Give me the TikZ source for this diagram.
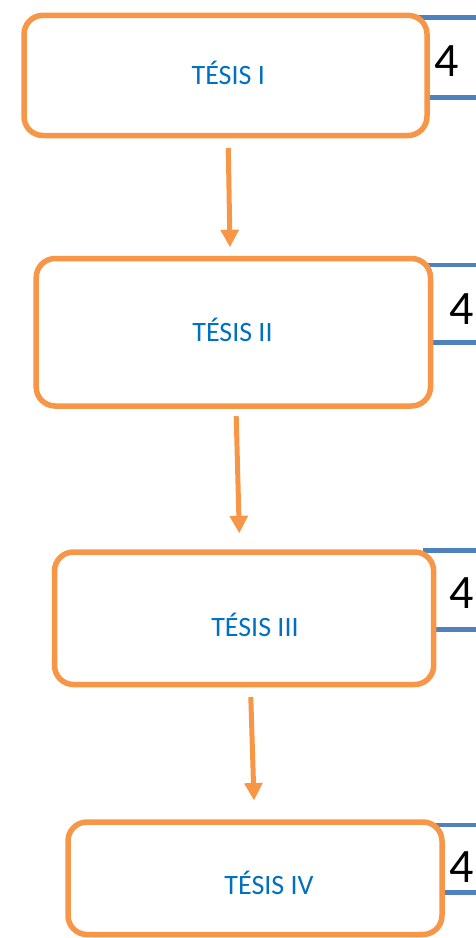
\documentclass[tikz,border=0pt]{standalone}
\usepackage{fontspec}
\setmainfont{Carlito}
\usetikzlibrary{arrows.meta}
\definecolor{boxorange}{HTML}{F79646}
\definecolor{textblue}{HTML}{0070C0}
\definecolor{lineblue}{HTML}{4F81BD}
\tikzset{
  tbox/.style={draw=boxorange, line width=5.5pt, rounded corners=19pt, fill=white, inner sep=0pt},
  tlabel/.style={text=textblue, font=\fontsize{28}{30}\selectfont, anchor=base, inner sep=0pt},
  numlabel/.style={text=black, font=\fontsize{48}{50}\selectfont, anchor=base west, inner sep=0pt},
  bracket/.style={draw=lineblue, line width=4.5pt},
  flow/.style={draw=boxorange, line width=5pt, -{Triangle[width=17.5pt, length=17.5pt]}}
}
\begin{document}
\begin{tikzpicture}[x=1pt, y=-1pt]
\useasboundingbox (0,0) rectangle (476,938);
% blue brackets (behind boxes)
\coordinate (k1a) at (476,17.7); \coordinate (k1b) at (418,17.7);
\coordinate (k1c) at (418,97.7); \coordinate (k1d) at (476,97.7);
\draw[bracket] (k1a) -- (k1b) -- (k1c) -- (k1d);
\coordinate (k2a) at (476,265); \coordinate (k2b) at (421,265);
\coordinate (k2c) at (421,342.3); \coordinate (k2d) at (476,342.3);
\draw[bracket] (k2a) -- (k2b) -- (k2c) -- (k2d);
\coordinate (k3a) at (476,550.7); \coordinate (k3b) at (425,550.7);
\coordinate (k3c) at (425,629.3); \coordinate (k3d) at (476,629.3);
\draw[bracket] (k3a) -- (k3b) -- (k3c) -- (k3d);
\coordinate (k4a) at (476,825); \coordinate (k4b) at (432,825);
\coordinate (k4c) at (432,892.3); \coordinate (k4d) at (476,892.3);
\draw[bracket] (k4a) -- (k4b) -- (k4c) -- (k4d);
% boxes
\node[tbox, minimum width=403pt, minimum height=120.2pt] (b1) at (225.5,75.4) {};
\node[tbox, minimum width=394.3pt, minimum height=147.5pt] (b2) at (233.35,332.25) {};
\node[tbox, minimum width=379.2pt, minimum height=132.5pt] (b3) at (244.1,618.25) {};
\node[tbox, minimum width=374pt, minimum height=112.5pt] (b4) at (255,878.25) {};
% labels
\node[tlabel] (t1) at (228.3,84.3) {TÉSIS I};
\node[tlabel] (t2) at (232.5,341) {TÉSIS II};
\node[tlabel] (t3) at (255,636) {TÉSIS III};
\node[tlabel] (t4) at (269,894.3) {TÉSIS IV};
% numbers
\node[numlabel] (n1) at (434,76) {4};
\node[numlabel] (n2) at (449,324) {4};
\node[numlabel] (n3) at (449,608) {4};
\node[numlabel] (n4) at (449,882) {4};
% arrows
\coordinate (a1s) at (228.3,148); \coordinate (a1e) at (230,247.3);
\coordinate (a2s) at (236.2,416); \coordinate (a2e) at (239.3,533.3);
\coordinate (a3s) at (250.8,697); \coordinate (a3e) at (254,800.5);
\draw[flow] (a1s) -- (a1e);
\draw[flow] (a2s) -- (a2e);
\draw[flow] (a3s) -- (a3e);
\end{tikzpicture}
\end{document}
